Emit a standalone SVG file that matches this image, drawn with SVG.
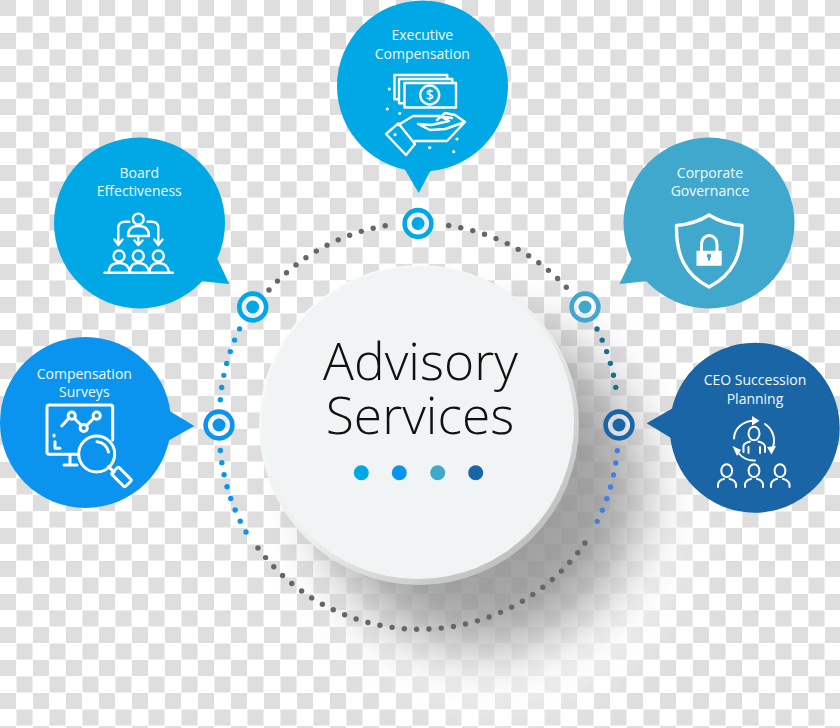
<svg xmlns="http://www.w3.org/2000/svg" width="840" height="728" viewBox="0 0 840 728">
<style>
text{font-family:"Open Sans","Liberation Sans",sans-serif}
.lbl{font-size:14px;fill:#f2fbff;text-anchor:middle}
.ttl{font-size:51.5px;font-weight:300;fill:#111;text-anchor:middle}
.ic{fill:none;stroke:#fff;stroke-width:2.4;stroke-linecap:round;stroke-linejoin:round}
.w{fill:#fff;stroke:none}
.dots{fill:none;stroke-width:5.4;stroke-linecap:round;stroke-dasharray:0 12.3}
.a{fill:#00a8e6}.b{fill:#0a94f0}.c{fill:#40a8cc}.d{fill:#1a65a5}
.ra{stroke:#00a8e6}.rb{stroke:#0a94f0}.rc{stroke:#40a8cc}.rd{stroke:#1a65a5}
.ring{fill:#fff;fill-opacity:.45;stroke-width:4.6}
</style>
<defs>
<pattern id="chk" width="33" height="33" patternUnits="userSpaceOnUse">
<rect width="33" height="33" fill="#fff"/>
<rect width="16" height="16" fill="#dedede"/>
<rect x="16.5" y="16.5" width="16" height="16" fill="#dedede"/>
</pattern>
<filter id="blurA" x="-50%" y="-50%" width="200%" height="200%"><feGaussianBlur stdDeviation="30"/></filter>
<filter id="blurB" x="-50%" y="-50%" width="200%" height="200%"><feGaussianBlur stdDeviation="24"/></filter>
<linearGradient id="rim" x1="0.15" y1="0.1" x2="0.85" y2="0.9">
<stop offset="0" stop-color="#fbfbfb"/><stop offset="0.55" stop-color="#eceeee"/><stop offset="1" stop-color="#bcbebe"/>
</linearGradient>
</defs>
<rect id="background" width="840" height="728" fill="url(#chk)"/>
<g id="shadow">
<circle cx="500" cy="525" r="180" fill="#fff" fill-opacity=".7" filter="url(#blurB)"/>
<circle cx="482" cy="488" r="160" fill="#000" fill-opacity=".36" filter="url(#blurA)"/>
</g>
<g id="connectors">
<path class="dots" stroke="#666" d="M448.7,225.5A201.5,201.5 0 0 1 567,288"/>
<path class="dots" stroke="#1a6f8f" d="M597,329A201.5,201.5 0 0 1 617.3,399.3"/>
<path class="dots" stroke="#3f80e0" d="M617.3,450.7A201.5,201.5 0 0 1 591.7,531.7"/>
<path class="dots" stroke="#666" d="M585,543A201.5,201.5 0 0 1 253.7,542"/>
<path class="dots" stroke="#0a94f0" d="M246,532A201.5,201.5 0 0 1 220.3,450"/>
<path class="dots" stroke="#0a9ae8" d="M220.3,399.7A201.5,201.5 0 0 1 240,328"/>
<path class="dots" stroke="#666" d="M269,290A201.5,201.5 0 0 1 386.7,225.5"/>
</g>
<g id="hub-executive"><circle class="ring ra" cx="418" cy="223.5" r="13.4"/><circle class="a" cx="418" cy="223.5" r="6.5"/></g>
<g id="hub-board"><circle class="ring ra" cx="252.7" cy="307" r="13.4"/><circle class="a" cx="252.7" cy="307" r="6.5"/></g>
<g id="hub-surveys"><circle class="ring rb" cx="219" cy="425" r="13.4"/><circle class="b" cx="219" cy="425" r="6.5"/></g>
<g id="hub-governance"><circle class="ring rc" cx="585" cy="307" r="13.4"/><circle class="c" cx="585" cy="307" r="6.5"/></g>
<g id="hub-ceo"><circle class="ring rd" cx="619" cy="425" r="13.4"/><circle class="d" cx="619" cy="425" r="6.5"/></g>
<g id="center">
<circle cx="419" cy="425" r="160" fill="url(#rim)"/>
<circle cx="418" cy="423" r="156" fill="#f1f4f5"/>
<text class="ttl" x="420.5" y="380">Advisory</text>
<text class="ttl" x="420" y="434">Services</text>
<circle class="a" cx="361.3" cy="472.7" r="7.5"/>
<circle class="b" cx="399.3" cy="472.7" r="7.5"/>
<circle class="c" cx="437.7" cy="472.7" r="7.5"/>
<circle class="d" cx="475.7" cy="472.7" r="7.5"/>
</g>
<g id="executive-compensation">
<circle class="a" cx="422.5" cy="86" r="85.5"/>
<polygon class="a" points="404,168 418.7,193 432,168"/>
<text class="lbl" x="422.3" y="40">Executive</text>
<text class="lbl" x="422.3" y="59">Compensation</text>
<g class="ic">
<rect x="404.5" y="83" width="51.5" height="24.5"/>
<path d="M447.3,79V75H394.5V99.3H399M399,103.3V79H452.3V83M399,103.3H404"/>
<circle cx="429.7" cy="95" r="9.5"/>
<path d="M398.3,125L413,116H440L449,121L431,125L418,124L430,130L445,129L465,122L447,141H415M437,120L445,113L455,115L465,122M443,117L452,118"/>
<path d="M386,134L398.3,123.3L415,144L406,155Z"/>
</g>
<text x="429.7" y="100" font-size="14" font-weight="600" fill="#fff" text-anchor="middle">$</text>
<g class="w">
<circle cx="395" cy="134.7" r="1.6"/><circle cx="389.3" cy="89" r="1.6"/><circle cx="387.3" cy="109" r="1.6"/><circle cx="399.7" cy="113.3" r="1.6"/><circle cx="457" cy="139" r="1.6"/><circle cx="429.7" cy="147.7" r="1.6"/><circle cx="453.7" cy="151.7" r="1.6"/>
</g>
</g>
<g id="board-effectiveness">
<circle class="a" cx="139.5" cy="223" r="85.5"/>
<polygon class="a" points="216,256 229.3,284 199,281"/>
<text class="lbl" x="139.3" y="177.7">Board</text>
<text class="lbl" x="139.3" y="196">Effectiveness</text>
<g class="ic">
<circle cx="138.3" cy="219" r="5.4"/>
<path d="M128,236C128,229 132,226 138.3,226C145,226 149,229 149,236Z"/>
<path d="M129.3,221.7H125Q118.3,221.7 118.3,228V244M114.5,239.5L118.3,245L122.5,239.5"/>
<path d="M147.5,221.7H152Q158.3,221.7 158.3,228V244M154.3,239.5L158.3,245L162.5,239.5"/>
<path d="M138.3,238V244.5M134.5,240.5L138.3,245L142.5,240.5"/>
<circle cx="119" cy="256" r="5.5"/><circle cx="138.3" cy="256" r="5.5"/><circle cx="158.3" cy="256" r="5.5"/>
<path d="M109,272C109,266 113,263 119,263C125,263 129,266 129.5,272M130,272C130,266 133,263 138.3,263C144,263 148,266 149,272M149.5,272C150,266 153,263 158.3,263C164,263 168,266 169,272"/>
<path d="M104.5,272.7H173"/>
</g>
</g>
<g id="compensation-surveys">
<circle class="b" cx="85.5" cy="422.5" r="85.5"/>
<polygon class="b" points="168,410 194.3,426 166,442"/>
<text class="lbl" x="84.3" y="379">Compensation</text>
<text class="lbl" x="84.3" y="397.3">Surveys</text>
<g class="ic" style="stroke-width:3">
<path d="M112.7,440V407Q112.7,405 110.7,405H49Q47,405 47,407V452Q47,454.3 49,454.3H77"/>
<path d="M70,455V465M64,465H77"/>
<path d="M54,435V436M55,441.7V448.3H60"/>
<path d="M61.7,426L69,418M75,419L81,425M87,425L93,419"/>
<circle cx="71.7" cy="415.7" r="3.6"/><circle cx="83.7" cy="428" r="3.6"/><circle cx="96.7" cy="415.7" r="3.6"/>
<circle cx="96.7" cy="454" r="18"/>
<path d="M97,441.7A12.5,12.5 0 0 1 108.5,452"/>
<path d="M108.5,466.5L114,472"/>
<rect x="112" y="472" width="19" height="10" rx="1.5" transform="rotate(45 121.5 477)"/>
</g>
</g>
<g id="corporate-governance">
<circle class="c" cx="709" cy="223" r="85.5"/>
<polygon class="c" points="633,256 619.3,284 649,281"/>
<text class="lbl" x="710" y="177.7">Corporate</text>
<text class="lbl" x="710" y="196">Governance</text>
<path d="M709,215Q695,224 676.5,225.5C676,255 685,275 709,287C733,275 742,255 742,225.5Q723,224 709,215Z" fill="none" stroke="#fff" stroke-width="3.4" stroke-linejoin="round"/>
<path d="M701.5,251V244A7.7,8.5 0 0 1 717,244V251" fill="none" stroke="#fff" stroke-width="3"/>
<rect class="w" x="696.5" y="250.7" width="25.2" height="15" rx="0.5"/>
<circle class="c" cx="709" cy="256" r="2.2"/><rect class="c" x="708" y="256" width="2" height="4.5"/>
</g>
<g id="ceo-succession-planning">
<circle class="d" cx="754.7" cy="427.7" r="85"/>
<polygon class="d" points="673,408 646.7,423.3 671,438"/>
<text class="lbl" x="755" y="385">CEO Succession</text>
<text class="lbl" x="755" y="404">Planning</text>
<g class="ic" style="stroke-width:2">
<ellipse cx="754" cy="433.5" rx="5.5" ry="6.8"/>
<path d="M743.5,452V446Q744,443 750,441.5M758.3,441.5Q764,443 765,446V452M748.5,447V453M760,447V453"/>
<path d="M734,438.5A20,18 0 0 1 753,420.7"/>
<path d="M765,424A20,20 0 0 1 773,447"/>
<path d="M755,460.5A20,20 0 0 1 738.5,453"/>
<ellipse cx="726.7" cy="470.7" rx="5.4" ry="6.4"/><ellipse cx="754" cy="470.7" rx="5.4" ry="6.4"/><ellipse cx="780" cy="470.7" rx="5.4" ry="6.4"/>
<path d="M718,487V484Q719,480 724,479M729.5,479Q735,480 736,484V487M745,487V484Q746,480 751,479M757,479Q762,480 763,484V487M771,487V484Q772,480 777,479M783,479Q788,480 789.5,484V487"/>
</g>
<g class="w">
<polygon points="752,416 759.5,420.7 752,425.5"/>
<polygon points="767,447 776,446 771.5,454.5"/>
<polygon points="741,450 737,456 732.5,446"/>
</g>
</g>
</svg>
